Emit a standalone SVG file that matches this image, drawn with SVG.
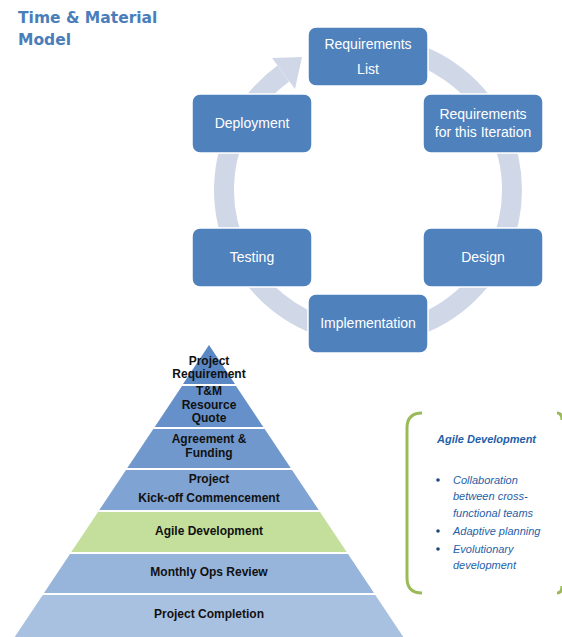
<svg xmlns="http://www.w3.org/2000/svg" width="562" height="637" viewBox="0 0 562 637">
<style>
.box{fill:#4f81bd;stroke:#ffffff;stroke-width:1.5}
.bt{font-family:"Liberation Sans",Arial,sans-serif;font-size:14px;fill:#ffffff;text-anchor:middle}
.pt{font-family:"Liberation Sans",Arial,sans-serif;font-size:12px;font-weight:bold;fill:#111111;text-anchor:middle}
.ring{fill:none;stroke:#d0d8e8;stroke-width:20}
.title{font-family:"DejaVu Sans",Verdana,sans-serif;font-size:15.5px;font-weight:bold;fill:#4a7ebb}
.at{font-family:"Liberation Sans",Arial,sans-serif;font-size:11px;font-style:italic;fill:#1f5fa8}
</style>
<rect width="562" height="637" fill="#ffffff"/>
<g id="title">
<text class="title" x="18" y="23">Time &amp; Material</text>
<text class="title" x="18" y="45">Model</text>
</g>
<g id="connectors">
<path class="ring" d="M393,48.2 A144,144 0 1 1 283.4,73.5"/>
<polygon points="272,58 302,57 295,89" fill="#d0d8e8"/>
</g>
<g id="req-list"><rect class="box" x="308" y="27" width="120" height="59" rx="8"/><text class="bt" x="368" y="49">Requirements</text><text class="bt" x="368" y="74">List</text></g>
<g id="req-iter"><rect class="box" x="423" y="94" width="120" height="59" rx="8"/><text class="bt" x="483" y="119">Requirements</text><text class="bt" x="483" y="137">for this Iteration</text></g>
<g id="deployment"><rect class="box" x="192" y="94" width="120" height="59" rx="8"/><text class="bt" x="252" y="128">Deployment</text></g>
<g id="testing"><rect class="box" x="192" y="228" width="120" height="59" rx="8"/><text class="bt" x="252" y="262">Testing</text></g>
<g id="design"><rect class="box" x="423" y="228" width="120" height="59" rx="8"/><text class="bt" x="483" y="262">Design</text></g>
<g id="implementation"><rect class="box" x="308" y="294" width="120" height="59" rx="8"/><text class="bt" x="368" y="328">Implementation</text></g>
<g id="pyramid">
<g id="p1"><polygon points="209,345 235,384 183,384" fill="#5a88c5"/><text class="pt" x="209" y="365">Project</text><text class="pt" x="209" y="378">Requirement</text></g>
<g id="p2"><polygon points="182,386 236,386 263.3,427 154.7,427" fill="#6690c9"/><text class="pt" x="209" y="395">T&amp;M</text><text class="pt" x="209" y="409">Resource</text><text class="pt" x="209" y="422">Quote</text></g>
<g id="p3"><polygon points="153.3,429 264.7,429 290.7,468 127.3,468" fill="#7198cd"/><text class="pt" x="209" y="443">Agreement &amp;</text><text class="pt" x="209" y="457">Funding</text></g>
<g id="p4"><polygon points="126,470 292,470 318.7,510 99.3,510" fill="#7fa3d3"/><text class="pt" x="209" y="483">Project</text><text class="pt" x="209" y="502">Kick-off Commencement</text></g>
<g id="p5"><polygon points="98,512 320,512 346.7,552 71.3,552" fill="#c3df9b"/><text class="pt" x="209" y="535">Agile Development</text></g>
<g id="p6"><polygon points="70,554 348,554 374,593 44,593" fill="#97b4db"/><text class="pt" x="209" y="576">Monthly Ops Review</text></g>
<g id="p7"><polygon points="42.7,595 375.3,595 404,638 14,638" fill="#a9c1e1"/><text class="pt" x="209" y="618">Project Completion</text></g>
</g>
<g id="agile-note">
<path d="M422,413 Q407,413 407,428 L407,578 Q407,593 422,593" fill="none" stroke="#9bbb59" stroke-width="3"/>
<path d="M557,413 Q562,413 562,420 M562,586 Q562,593 557,593" fill="none" stroke="#9bbb59" stroke-width="3"/>
<text class="at" x="437" y="443" font-weight="bold" fill="#1f497d">Agile Development</text>
<circle cx="438" cy="480" r="1.8" fill="#1f497d"/>
<circle cx="438" cy="531" r="1.8" fill="#1f497d"/>
<circle cx="438" cy="549" r="1.8" fill="#1f497d"/>
<text class="at" x="453" y="484">Collaboration</text>
<text class="at" x="453" y="500">between cross-</text>
<text class="at" x="453" y="517">functional teams</text>
<text class="at" x="453" y="535">Adaptive planning</text>
<text class="at" x="453" y="553">Evolutionary</text>
<text class="at" x="453" y="569">development</text>
</g>
</svg>
